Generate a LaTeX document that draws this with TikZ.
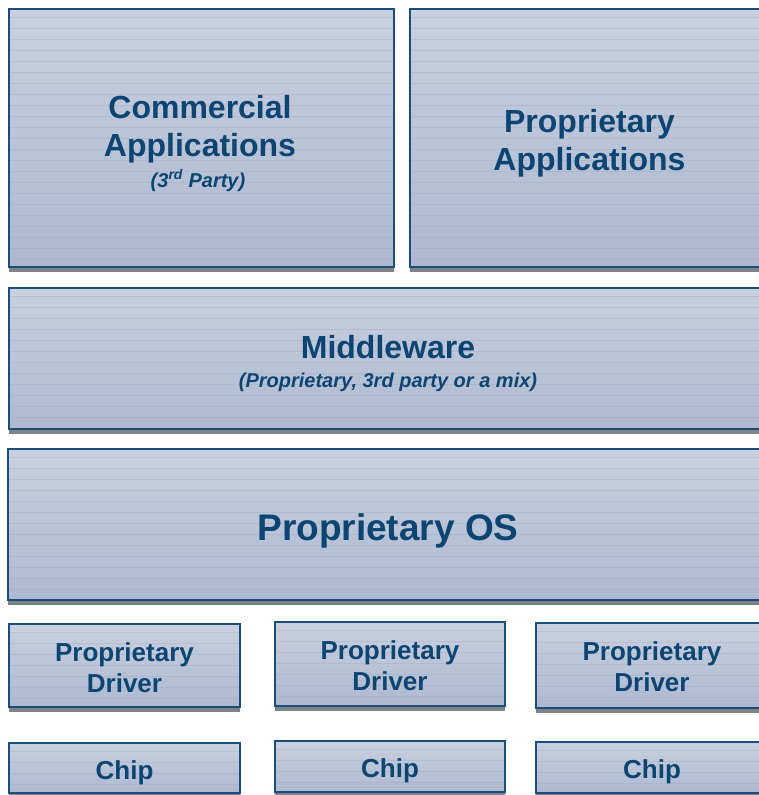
\documentclass[tikz,border=0pt]{standalone}
\usepackage{fontspec}
\setmainfont{Liberation Sans}
\usetikzlibrary{shadows}

\definecolor{edgeblue}{HTML}{1B4D7A}
\definecolor{fillTop}{HTML}{C9D0DF}
\definecolor{fillBot}{HTML}{ADB9D1}
\definecolor{txtblue}{HTML}{0D4572}
\definecolor{shadowgray}{HTML}{7E8388}
\definecolor{stripe}{HTML}{98A3B8}

\tikzset{
  layer/.style={
    draw=edgeblue, line width=1.6pt, inner sep=0pt,
    top color=fillTop, bottom color=fillBot,
    drop shadow={shadow xshift=0pt, shadow yshift=-5pt, fill=shadowgray, opacity=1},
    path picture={
      \foreach \k in {1,...,26}{
        \draw[stripe, opacity=0.3, line width=0.7pt]
          ([yshift=-\k*11pt+3pt]path picture bounding box.north west) --
          ([yshift=-\k*11pt+3pt]path picture bounding box.north east);
      }
    }
  },
  caption/.style={text=txtblue, align=center, inner sep=0pt, font=\bfseries},
  big/.style={caption, font=\fontsize{32}{38}\selectfont\bfseries},
  huge/.style={caption, font=\fontsize{37}{44}\selectfont\bfseries},
  small/.style={caption, font=\fontsize{26}{31}\selectfont\bfseries},
  note/.style={caption, font=\fontsize{20}{24}\selectfont\bfseries\itshape}
}

\begin{document}
\begin{tikzpicture}[x=1pt, y=-1pt]
  \useasboundingbox (0,0) rectangle (759,795);
  \clip (0,0) rectangle (759,795);

  % application layer
  \node[layer, minimum width=385pt, minimum height=258pt] (comm) at (201.5,138) {};
  \node[layer, minimum width=359pt, minimum height=258pt] (papp) at (589.5,138) {};

  % middleware and operating system
  \node[layer, minimum width=759pt, minimum height=141pt] (mid) at (388.5,358.5) {};
  \node[layer, minimum width=760pt, minimum height=151pt] (os) at (388,524.5) {};

  % drivers
  \node[layer, minimum width=231pt, minimum height=83pt] (drv1) at (124.5,665.5) {};
  \node[layer, minimum width=230pt, minimum height=84pt] (drv2) at (390,664) {};
  \node[layer, minimum width=231pt, minimum height=85pt] (drv3) at (651.5,665.5) {};

  % chips
  \node[layer, minimum width=231pt, minimum height=50pt] (chip1) at (124.5,768) {};
  \node[layer, minimum width=230pt, minimum height=51pt] (chip2) at (390,766.5) {};
  \node[layer, minimum width=231pt, minimum height=51pt] (chip3) at (651.5,767.5) {};

  % captions (base anchor sits on the last line)
  \node[big, anchor=base] (tcomm) at (200,156) {Commercial\\Applications};
  \node[note, anchor=base] (tparty) at (198,187) {(3\textsuperscript{rd} Party)};
  \node[big, anchor=base] (tpapp) at (589.5,170) {Proprietary\\Applications};
  \node[big, anchor=base] (tmid) at (388,358) {Middleware};
  \node[note, anchor=base] (tmix) at (388,387) {(Proprietary, 3rd party or a mix)};
  \node[huge, anchor=base] (tos) at (388,540) {Proprietary OS};
  \node[small, anchor=base] (tdrv1) at (124.5,692) {Proprietary\\Driver};
  \node[small, anchor=base] (tdrv2) at (390,690) {Proprietary\\Driver};
  \node[small, anchor=base] (tdrv3) at (652,691) {Proprietary\\Driver};
  \node[small, anchor=base] (tchip1) at (124.5,779) {Chip};
  \node[small, anchor=base] (tchip2) at (390,777) {Chip};
  \node[small, anchor=base] (tchip3) at (652,778) {Chip};
\end{tikzpicture}
\end{document}
